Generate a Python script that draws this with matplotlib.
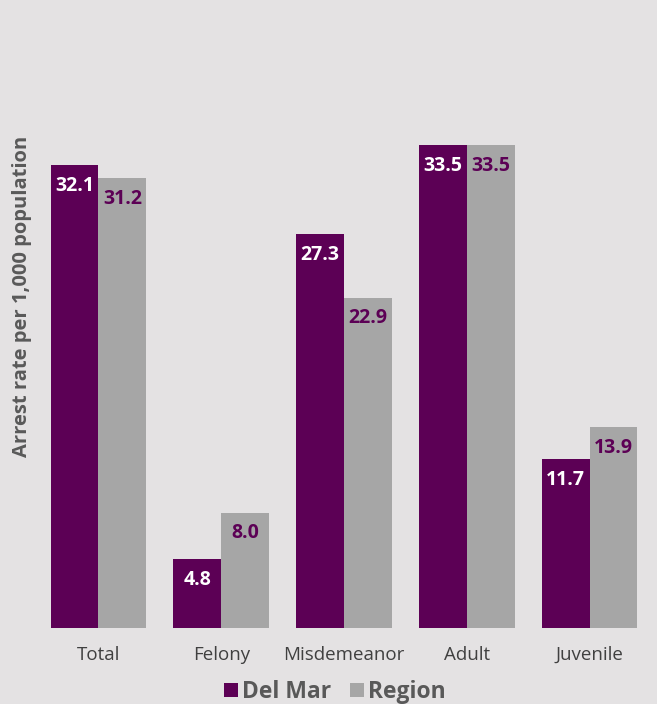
import numpy as np
import matplotlib
matplotlib.use("Agg")
import matplotlib.pyplot as plt

categories = ["Total", "Felony", "Misdemeanor", "Adult", "Juvenile"]
del_mar = [32.1, 4.8, 27.3, 33.5, 11.7]
region = [31.2, 8.0, 22.9, 33.5, 13.9]

purple = "#5C0055"
gray = "#A6A6A6"
bg = "#E4E2E3"

plt.rcParams['font.family'] = ['Open Sans', 'DejaVu Sans']

fig = plt.figure(figsize=(6.57, 7.04), dpi=100, facecolor=bg)
ax = fig.add_axes([37 / 657, 1 - 628 / 704, 614 / 657, 577 / 704])
ax.set_facecolor(bg)

x = np.arange(len(categories))
w = 0.39
b1 = ax.bar(x - w / 2, del_mar, w, color=purple, label="Del Mar")
b2 = ax.bar(x + w / 2, region, w, color=gray, label="Region")

for rect, v in zip(b1, del_mar):
    ax.text(rect.get_x() + rect.get_width() / 2, v - 0.75, f"{v:.1f}",
            ha="center", va="top", color="white", fontsize=14, fontweight="bold")
for rect, v in zip(b2, region):
    ax.text(rect.get_x() + rect.get_width() / 2, v - 0.75, f"{v:.1f}",
            ha="center", va="top", color=purple, fontsize=14, fontweight="bold")

ax.set_xlim(-0.5, len(categories) - 0.5)
ax.set_ylim(0, 40)
ax.set_xticks(x)
ax.set_xticklabels(categories, fontsize=13.5, color="#404040")
ax.tick_params(axis="x", length=0, pad=13)
ax.set_yticks([])
for s in ax.spines.values():
    s.set_visible(False)

fig.text(22 / 657, 1 - 296 / 704, "Arrest rate per 1,000 population", rotation=90,
         ha="center", va="center", fontsize=14.5, fontweight="bold", color="#595959")

leg = fig.legend(handles=[b1, b2], loc="center", bbox_to_anchor=(335 / 657, 1 - 692 / 704),
                 ncol=2, frameon=False, handlelength=0.6, handleheight=0.6,
                 handletextpad=0.2, columnspacing=0.8, prop={"size": 16.5, "weight": "bold"})
for t in leg.get_texts():
    t.set_color("#595959")

fig.savefig("out.png", dpi=100, facecolor=bg)
